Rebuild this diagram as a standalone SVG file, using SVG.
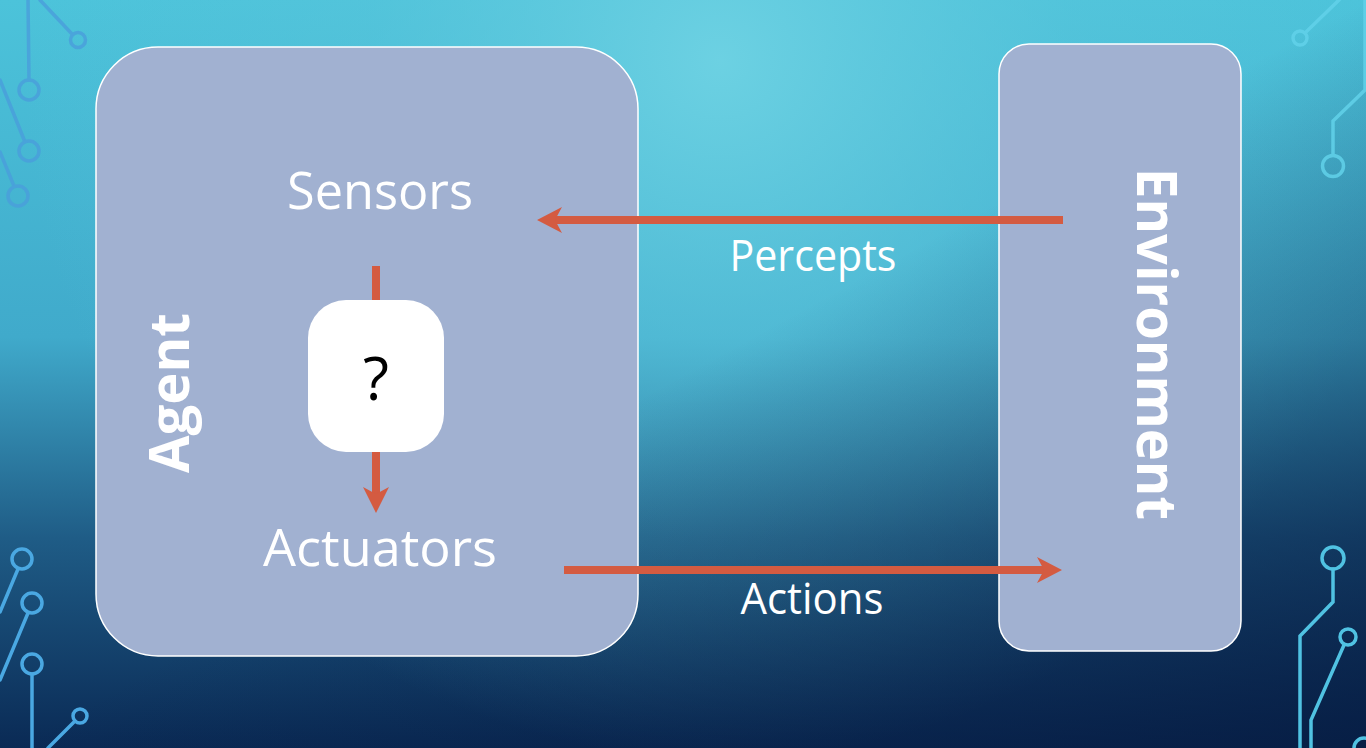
<svg xmlns="http://www.w3.org/2000/svg" width="1366" height="748" viewBox="0 0 1366 748">
<defs>
<linearGradient id="bgv" x1="0" y1="0" x2="0" y2="1">
<stop offset="0" stop-color="#4cc3da"/>
<stop offset="0.45" stop-color="#40aacb"/>
<stop offset="0.72" stop-color="#1f5c86"/>
<stop offset="1" stop-color="#0a2a55"/>
</linearGradient>
<radialGradient id="bgr" cx="720" cy="60" r="700" gradientUnits="userSpaceOnUse">
<stop offset="0" stop-color="#6ed2e3" stop-opacity="0.95"/>
<stop offset="0.5" stop-color="#5cc6dc" stop-opacity="0.4"/>
<stop offset="1" stop-color="#5cc6dc" stop-opacity="0"/>
</radialGradient>
<linearGradient id="bgd" x1="0" y1="0" x2="1" y2="1">
<stop offset="0.5" stop-color="#061a40" stop-opacity="0"/>
<stop offset="1" stop-color="#061a40" stop-opacity="0.75"/>
</linearGradient>
<style>
.box{fill:#a1b1d1;stroke:#ffffff;stroke-width:1.5}
.lbl{font-family:"Open Sans","Noto Sans",sans-serif;fill:#ffffff;text-anchor:middle}
.big{font-family:"Open Sans","Noto Sans",sans-serif;font-weight:bold;fill:#ffffff;text-anchor:middle}
.arr{stroke:#d45b41;stroke-width:8;fill:none}
.head{fill:#d45b41}
.ct{fill:none;stroke-width:3.5;stroke-linecap:round}
.c1{stroke:#4a9edc;opacity:0.8}
.c2{stroke:#62d2ea;opacity:0.85}
.c3{stroke:#4aa8e2}
.c4{stroke:#50c2e2}
</style>
</defs>
<rect x="0" y="0" width="1366" height="748" fill="url(#bgv)"/>
<rect x="0" y="0" width="1366" height="748" fill="url(#bgr)"/>
<rect x="0" y="0" width="1366" height="748" fill="url(#bgd)"/>

<g id="circuits">
<g class="ct c1">
<path d="M28 0 L29 80"/><circle cx="29" cy="90" r="10"/>
<path d="M40 0 L72 34"/><circle cx="78" cy="40" r="7.5"/>
<path d="M0 80 L25 142"/><circle cx="29" cy="151" r="10"/>
<path d="M0 152 L14 186"/><circle cx="18" cy="196" r="10"/>
</g>
<g class="ct c2">
<path d="M1339 0 L1305 33"/><circle cx="1300" cy="38" r="7"/>
<path d="M1365 0 L1365 90 L1333 121 L1333 155"/><circle cx="1333" cy="166" r="10.5"/>
</g>
<g class="ct c3">
<path d="M0 612 L18 569"/><circle cx="22" cy="559" r="10"/>
<path d="M28 613 L0 680"/><circle cx="32" cy="603" r="10"/>
<path d="M32 674 L32 748"/><circle cx="32" cy="664" r="10"/>
<path d="M75 721 L48 748"/><circle cx="80" cy="716" r="7"/>
</g>
<g class="ct c4">
<path d="M1333 569 L1333 602 L1300 636 L1300 748"/><circle cx="1333" cy="558" r="11"/>
<path d="M1344 645 L1311 720 L1311 748"/><circle cx="1348" cy="637" r="8"/>
<circle cx="1364" cy="748" r="10"/>
</g>
</g>

<g id="agent">
<rect class="box" x="96" y="47" width="542" height="609" rx="62"/>
<text class="big" x="0" y="0" font-size="56" transform="translate(189,393) rotate(-90)" textLength="160" lengthAdjust="spacingAndGlyphs">Agent</text>
</g>

<g id="environment">
<rect class="box" x="999" y="44" width="242" height="607" rx="30"/>
<text class="big" x="0" y="0" font-size="56" transform="translate(1137,344) rotate(90)" textLength="352" lengthAdjust="spacingAndGlyphs">Environment</text>
</g>

<g id="sensors">
<text class="lbl" x="380" y="209" font-size="52" textLength="186" lengthAdjust="spacingAndGlyphs">Sensors</text>
</g>

<g id="actuators">
<text class="lbl" x="380" y="566" font-size="52" textLength="234" lengthAdjust="spacingAndGlyphs">Actuators</text>
</g>

<g id="connectors">
<line class="arr" x1="1063" y1="220" x2="553" y2="220"/>
<polygon class="head" points="537,220 562,207 555,220 562,233"/>
<line class="arr" x1="564" y1="570" x2="1046" y2="570"/>
<polygon class="head" points="1062,570 1037,557 1044,570 1037,583"/>
<line class="arr" x1="376" y1="266" x2="376" y2="497"/>
<polygon class="head" points="376,513 363,487 376,494 389,487"/>
<text class="lbl" x="813" y="271" font-size="43" textLength="167" lengthAdjust="spacingAndGlyphs">Percepts</text>
<text class="lbl" x="812" y="614" font-size="43" textLength="143" lengthAdjust="spacingAndGlyphs">Actions</text>
</g>

<g id="decision">
<rect x="308" y="300" width="136" height="152" rx="38" fill="#ffffff"/>
<text x="376" y="400" font-family="Open Sans,Noto Sans,sans-serif" font-size="60" fill="#000000" text-anchor="middle">?</text>
</g>
</svg>
